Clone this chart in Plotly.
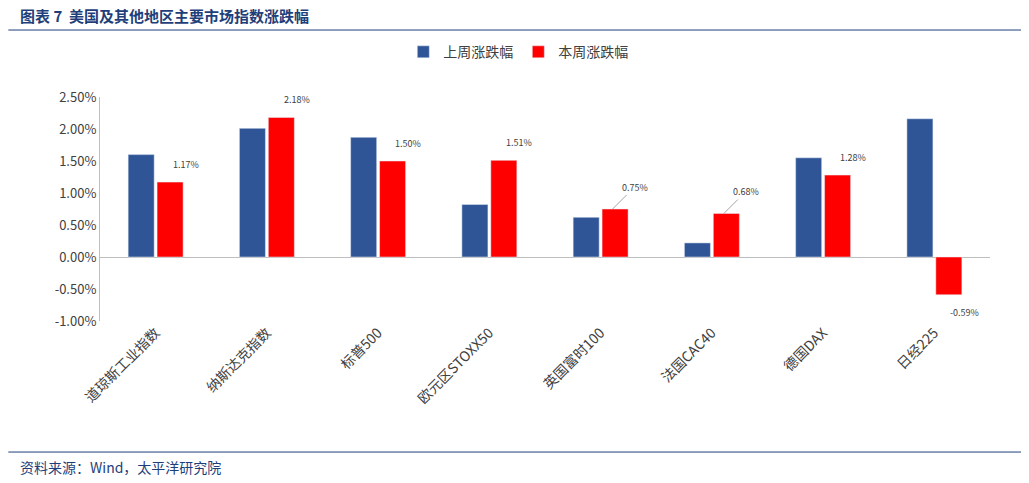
import plotly.graph_objects as go

categories = ["道琼斯工业指数", "纳斯达克指数", "标普500", "欧元区STOXX50", "英国富时100", "法国CAC40", "德国DAX", "日经225"]
last_week = [1.60, 2.01, 1.87, 0.82, 0.62, 0.22, 1.55, 2.16]
this_week = [1.17, 2.18, 1.50, 1.51, 0.75, 0.68, 1.28, -0.59]
tick_vals = [-1.0, -0.5, 0, 0.5, 1.0, 1.5, 2.0, 2.5]
tick_text = ["-1.00%", "-0.50%", "0.00%", "0.50%", "1.00%", "1.50%", "2.00%", "2.50%"]

font = "Noto Sans CJK SC"
fig = go.Figure()
fig.add_bar(x=categories, y=last_week, name="上周涨跌幅", marker_color="#2F5597")
fig.add_bar(x=categories, y=this_week, name="本周涨跌幅", marker_color="#FF0000")

for c, v in zip(categories, this_week):
    lead = c in ("英国富时100", "法国CAC40")
    if lead:
        fig.add_annotation(x=c, y=v, xshift=12, yshift=0, text=f"{v:.2f}%", showarrow=True,
                           ax=22, ay=-22, arrowhead=0, arrowcolor="#A6A6A6", arrowwidth=1,
                           font=dict(size=9, color="#404040", family=font))
    else:
        fig.add_annotation(x=c, y=v, xshift=30, yshift=18 if v >= 0 else -18, text=f"{v:.2f}%",
                           showarrow=False, font=dict(size=9, color="#404040", family=font))

fig.add_annotation(xref="paper", yref="paper", x=-0.092, y=1.366, xanchor="left", yanchor="middle",
                   text="<b>图表 7  美国及其他地区主要市场指数涨跌幅</b>", showarrow=False,
                   font=dict(size=15, color="#1F3F7A", family=font))
fig.add_annotation(xref="paper", yref="paper", x=-0.092, y=-0.652, xanchor="left", yanchor="middle",
                   text="资料来源：Wind，太平洋研究院", showarrow=False,
                   font=dict(size=14, color="#1F3F7A", family=font))
fig.add_shape(type="line", xref="paper", yref="paper", x0=-0.103, x1=1.035, y0=1.299, y1=1.299,
              line=dict(color="#1F3F7A", width=1))
fig.add_shape(type="line", xref="paper", yref="paper", x0=-0.103, x1=1.035, y0=-0.585, y1=-0.585,
              line=dict(color="#1F3F7A", width=1))

fig.update_layout(
    width=1013, height=467, margin=dict(l=92, r=31, t=89, b=154, autoexpand=False),
    plot_bgcolor="white", paper_bgcolor="white", barmode="group", bargap=0.48, bargroupgap=0.1,
    font=dict(family=font, color="#404040"),
    legend=dict(orientation="h", x=0.47, xanchor="center", y=1.2, yanchor="middle",
                font=dict(size=14, color="#404040")),
    xaxis=dict(tickangle=-45, tickfont=dict(size=14, color="#404040"), showline=False, ticks=""),
    yaxis=dict(range=[-1.0, 2.5], tickvals=tick_vals, ticktext=tick_text, showgrid=False,
               showline=True, linecolor="#BFBFBF", zeroline=True, zerolinecolor="#BFBFBF",
               zerolinewidth=1, tickfont=dict(size=13, color="#404040")),
)
fig.write_html("out.html")
